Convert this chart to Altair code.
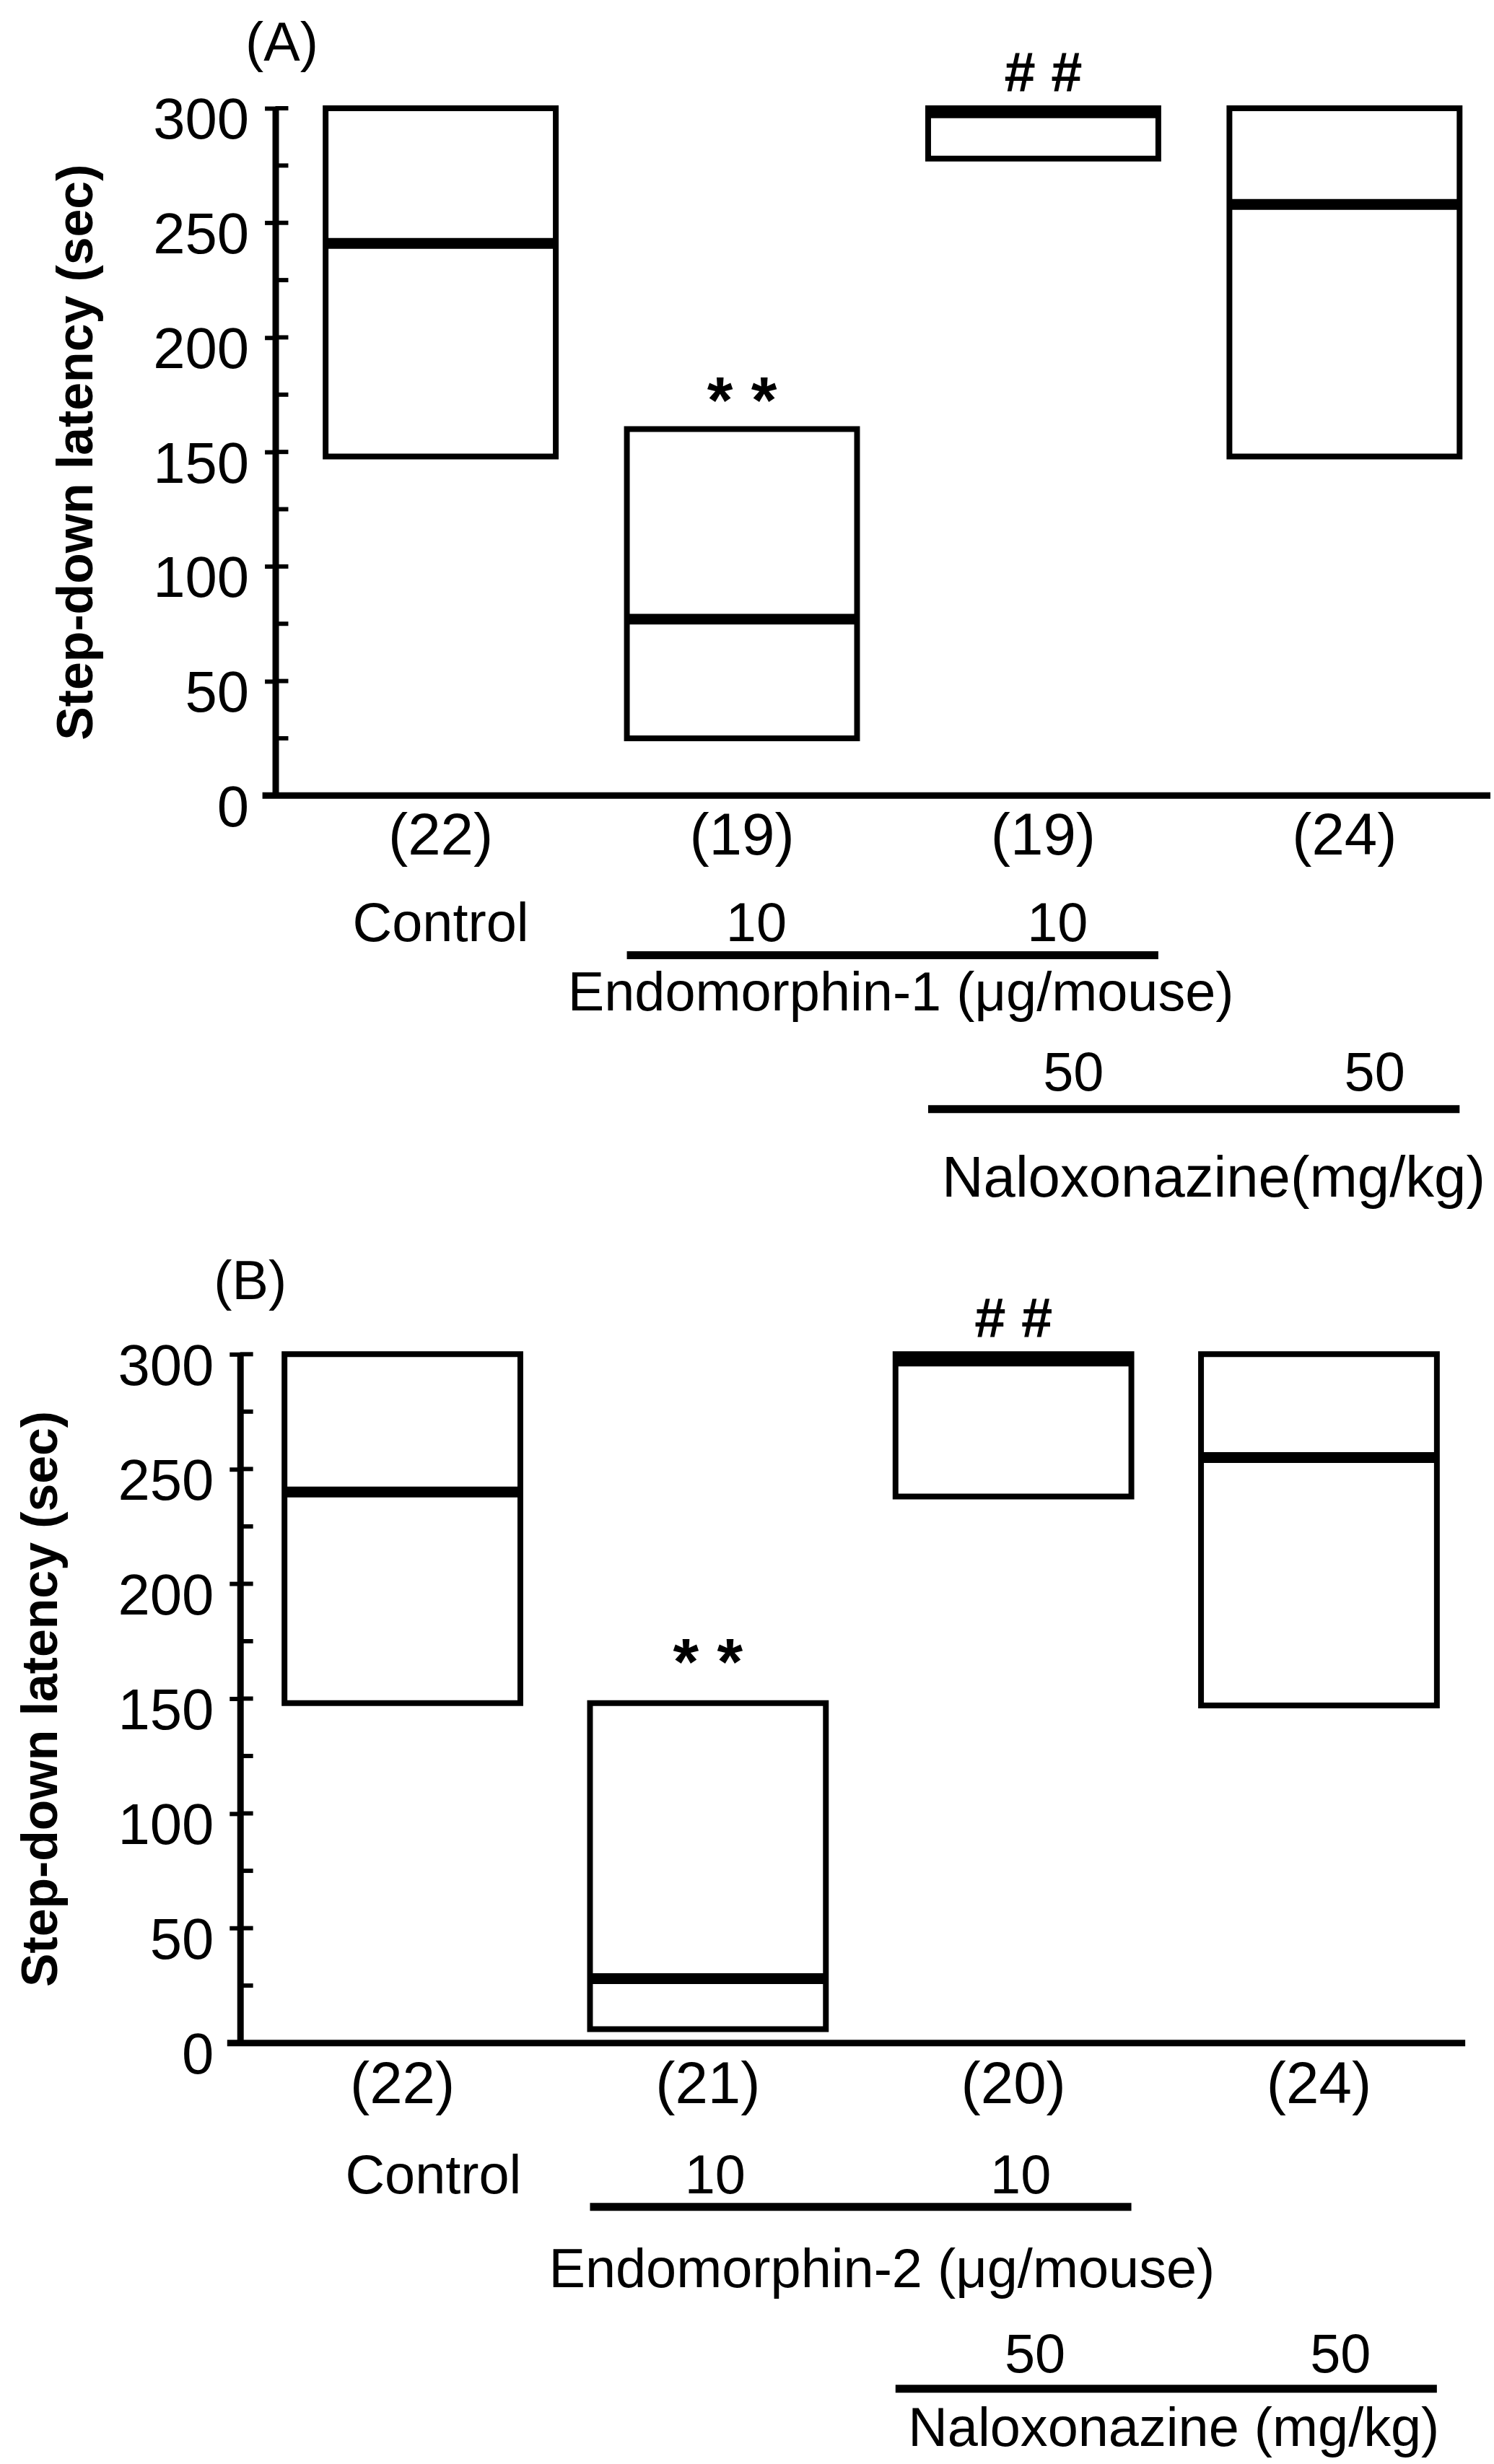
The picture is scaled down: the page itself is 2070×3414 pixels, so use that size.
import altair as alt
import pandas as pd

FONT = "Liberation Sans"

groups = ["Control", "Endomorphin 10", "Endomorphin 10 + Naloxonazine 50", "Naloxonazine 50"]
minor_ticks = [0, 25, 50, 75, 100, 125, 150, 175, 200, 225, 250, 275, 300]
major_ticks = [0, 50, 100, 150, 200, 250, 300]

# ---- Panel A (Endomorphin-1) ----
a_n = ["(22)", "(19)", "(19)", "(24)"]
a_low = [148, 25, 278, 148]
a_median = [241, 77, 298, 258]
a_high = [300, 160, 300, 300]
a_stars = ["", "* *", "", ""]
a_hash = ["", "", "# #", ""]
a_endo_doses = ["", "10", "10", ""]
a_nal_doses = ["", "", "50", "50"]
a_endo_title = "Endomorphin-1 (μg/mouse)"
a_nal_title = "Naloxonazine(mg/kg)"

# ---- Panel B (Endomorphin-2) ----
b_n = ["(22)", "(21)", "(20)", "(24)"]
b_low = [148, 6, 238, 147]
b_median = [240, 28, 297, 255]
b_high = [300, 148, 300, 300]
b_stars = ["", "* *", "", ""]
b_hash = ["", "", "# #", ""]
b_endo_doses = ["", "10", "10", ""]
b_nal_doses = ["", "", "50", "50"]
b_endo_title = "Endomorphin-2 (μg/mouse)"
b_nal_title = "Naloxonazine (mg/kg)"


def panel(tag, n_labels, low, med, high, stars, hashes, endo_doses, nal_doses,
          endo_title, nal_title, lay):
    W, H, shift = lay["width"], lay["height"], lay["shift"]
    box_df = pd.DataFrame({"group": groups, "low": low, "median": med, "high": high,
                           "stars": stars, "hash": hashes,
                           "endo": endo_doses, "nal": nal_doses})
    xscale = alt.Scale(domain=groups, paddingInner=lay["pi"], paddingOuter=lay["po"],
                       align=lay["align"])
    yscale = alt.Scale(domain=[0, 300], nice=False, zero=True)
    label_expr = ("[" + ",".join(f"'{s}'" for s in n_labels) + "][indexof(["
                  + ",".join(f"'{g}'" for g in groups) + "], datum.value)]")
    xaxis = alt.Axis(title=None, labelExpr=label_expr, labelAngle=0, ticks=False, tickSize=0,
                     domain=False, labelFont=FONT, labelFontSize=82, labelColor="black",
                     labelPadding=lay["xlabpad"], grid=False)
    yaxis = alt.Axis(title="Step-down latency (sec)", values=major_ticks, grid=False,
                     offset=-shift, domainColor="black", domainWidth=9,
                     tickColor="black", tickWidth=6, tickSize=15,
                     labelFont=FONT, labelFontSize=80, labelColor="black", labelPadding=22,
                     labelOffset=18, labelFlush=False, labelOverlap=False,
                     titleFont=FONT, titleFontSize=70, titleFontWeight="bold",
                     titleColor="black", titlePadding=70)

    base = alt.Chart(box_df)
    boxes = base.mark_rect(fill="white", stroke="black", strokeWidth=8).encode(
        x=alt.X("group:N", scale=xscale, axis=xaxis),
        y=alt.Y("low:Q", scale=yscale, axis=yaxis),
        y2="high:Q",
    )
    medians = base.mark_rule(color="black", strokeWidth=15).encode(
        x=alt.X("group:N", bandPosition=0, scale=xscale),
        x2=alt.X2("group", bandPosition=1),
        y=alt.Y("median:Q", scale=yscale),
    )
    star_txt = base.mark_text(font=FONT, fontSize=92, fontWeight="bold", baseline="middle",
                              dy=lay["star_dy"], color="black").encode(
        x=alt.X("group:N", scale=xscale), y=alt.Y("high:Q", scale=yscale), text="stars:N")
    hash_txt = base.mark_text(font=FONT, fontSize=78, fontWeight="bold", baseline="middle",
                              dy=-46, color="black").encode(
        x=alt.X("group:N", scale=xscale), y=alt.Y("high:Q", scale=yscale), text="hash:N")

    inner = alt.Chart(pd.DataFrame({"v": minor_ticks})).mark_rule(
        color="black", strokeWidth=6).encode(
        y=alt.Y("v:Q", scale=yscale), x=alt.value(shift), x2=alt.value(shift + 18))
    baseline = alt.Chart(pd.DataFrame({"v": [0]})).mark_rule(
        color="black", strokeWidth=9).encode(
        y=alt.Y("v:Q", scale=yscale), x=alt.value(shift - 18), x2=alt.value(W))

    def span(a, b, off):
        return alt.Chart(pd.DataFrame({"start": [a], "end": [b]})).mark_rule(
            color="black", strokeWidth=11).encode(
            x=alt.X("start:N", bandPosition=0, scale=xscale),
            x2=alt.X2("end", bandPosition=1),
            y=alt.value(H + off))

    def anchored_text(g, label, band, off, dx, size=76):
        return alt.Chart(pd.DataFrame({"group": [g], "label": [label]})).mark_text(
            font=FONT, fontSize=size, baseline="middle", dx=dx, color="black").encode(
            x=alt.X("group:N", bandPosition=band, scale=xscale),
            y=alt.value(H + off), text="label:N")

    endo_row = base.mark_text(font=FONT, fontSize=76, baseline="middle",
                              dx=lay["endo_dx"], color="black").encode(
        x=alt.X("group:N", scale=xscale), y=alt.value(H + lay["row1"]), text="endo:N")
    nal_row = base.mark_text(font=FONT, fontSize=76, baseline="middle",
                             dx=lay["nal_dx"], color="black").encode(
        x=alt.X("group:N", scale=xscale), y=alt.value(H + lay["row50"]), text="nal:N")

    tag_txt = alt.Chart(pd.DataFrame({"label": [tag]})).mark_text(
        font=FONT, fontSize=76, baseline="middle", color="black").encode(
        x=alt.value(lay["tag_x"]), y=alt.value(lay["tag_y"]), text="label:N")

    layers = [
        boxes, medians, star_txt, hash_txt, inner, baseline,
        anchored_text(groups[0], "Control", 0.5, lay["row1"], lay["ctrl_dx"]),
        endo_row,
        span(groups[1], groups[2], lay["line1"]),
        anchored_text(groups[2], endo_title, 0, lay["endo_t"], lay["endo_t_dx"]),
        nal_row,
        span(groups[2], groups[3], lay["line2"]),
        anchored_text(groups[3], nal_title, 0, lay["nal_t"], lay["nal_t_dx"], lay["nal_size"]),
        tag_txt,
    ]
    return alt.layer(*layers).properties(width=W, height=H)


lay_a = dict(width=1739, height=956, shift=49, pi=0.236, po=0.193, align=0.735,
             xlabpad=16, star_dy=-36, row1=179, line1=222, endo_t=276, row50=387,
             line2=436, nal_t=534, ctrl_dx=0, endo_dx=20, nal_dx=42,
             endo_t_dx=-38, nal_t_dx=-22, nal_size=80, tag_x=58, tag_y=-89)
lay_b = dict(width=1704, height=958, shift=0, pi=0.228, po=0.119, align=0.61,
             xlabpad=18, star_dy=-54, row1=186, line1=228, endo_t=317, row50=435,
             line2=481, nal_t=538, ctrl_dx=43, endo_dx=10, nal_dx=30,
             endo_t_dx=-19, nal_t_dx=-38, nal_size=76, tag_x=14, tag_y=-100)

chart_a = panel("(A)", a_n, a_low, a_median, a_high, a_stars, a_hash,
                a_endo_doses, a_nal_doses, a_endo_title, a_nal_title, lay_a)
chart_b = panel("(B)", b_n, b_low, b_median, b_high, b_stars, b_hash,
                b_endo_doses, b_nal_doses, b_endo_title, b_nal_title, lay_b)

chart = alt.vconcat(chart_a, chart_b, spacing=777, bounds="flush").properties(
    padding={"left": 22, "top": 17, "right": 0, "bottom": 0},
    background="white",
).configure_view(stroke=None)

chart.save("out.html", embed_options={"renderer": "svg", "actions": False})
